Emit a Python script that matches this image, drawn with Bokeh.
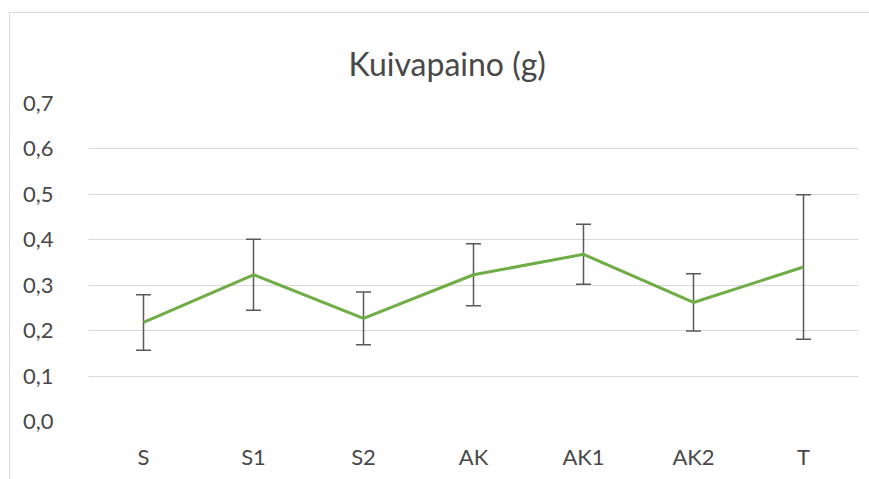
from bokeh.plotting import figure
from bokeh.models import ColumnDataSource, Whisker, TeeHead, FixedTicker, CustomJSTickFormatter
from bokeh.embed import file_html
from bokeh.resources import INLINE

categories = ["S", "S1", "S2", "AK", "AK1", "AK2", "T"]
means = [0.218, 0.323, 0.227, 0.323, 0.368, 0.262, 0.340]
errors = [0.061, 0.078, 0.058, 0.068, 0.066, 0.063, 0.159]
y_ticks = [0.0, 0.1, 0.2, 0.3, 0.4, 0.5, 0.6, 0.7]

FONT = "Lato"
TXT = "#484848"

src = ColumnDataSource(dict(
    x=categories,
    y=means,
    upper=[m + e for m, e in zip(means, errors)],
    lower=[m - e for m, e in zip(means, errors)],
))

p = figure(x_range=categories, y_range=(0, 0.7), width=860, height=467,
           output_backend="svg", toolbar_location=None,
           min_border_left=78, min_border_right=12, min_border_top=90, min_border_bottom=59,
           title="Kuivapaino (g)")
p.margin = (12, 0, 0, 9)
p.styles = {"border-left": "1px solid #d9d9d9", "border-top": "1px solid #d9d9d9"}

p.title.align = "left"
p.title.text_font = FONT
p.title.text_font_size = "32px"
p.title.text_font_style = "normal"
p.title.text_color = TXT
p.title.offset = 260
p.title.standoff = 41

p.outline_line_color = None
p.background_fill_color = "white"
p.border_fill_color = "white"

p.xgrid.grid_line_color = None
p.ygrid.grid_line_color = "#d9d9d9"
p.ygrid.grid_line_width = 1
p.yaxis.ticker = FixedTicker(ticks=y_ticks)
p.yaxis.formatter = CustomJSTickFormatter(code="return tick.toFixed(1).replace('.', ',');")

for ax in (p.xaxis, p.yaxis):
    ax.axis_line_color = None
    ax.major_tick_line_color = None
    ax.minor_tick_line_color = None
    ax.major_tick_out = 0
    ax.major_tick_in = 0
    ax.major_label_text_font = FONT
    ax.major_label_text_font_size = "22px"
    ax.major_label_text_color = TXT
p.yaxis.major_label_standoff = 35
p.xaxis.major_label_standoff = 21

p.line("x", "y", source=src, line_color="#70ad47", line_width=3)

w = Whisker(base="x", upper="upper", lower="lower", source=src,
            line_color="#595959", line_width=1.5,
            upper_head=TeeHead(size=15, line_color="#595959", line_width=1.5),
            lower_head=TeeHead(size=15, line_color="#595959", line_width=1.5))
p.add_layout(w)

open("out.html", "w").write(file_html(p, INLINE))
